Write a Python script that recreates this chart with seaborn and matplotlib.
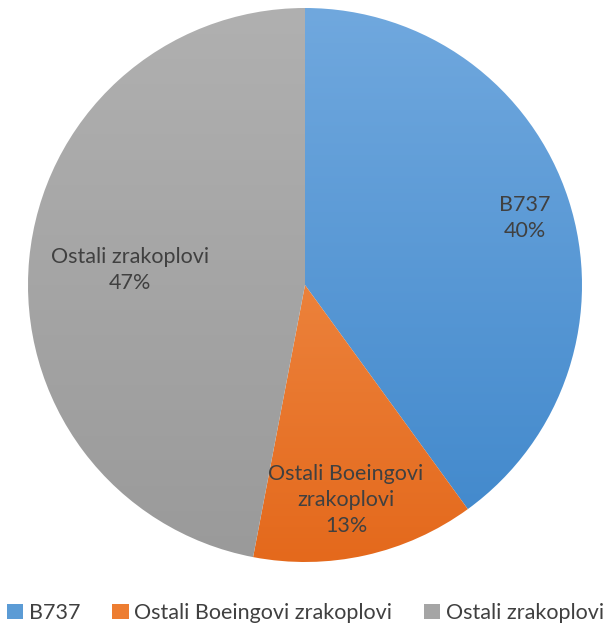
import numpy as np
import seaborn as sns
import matplotlib
matplotlib.use("Agg")
import matplotlib.pyplot as plt
from matplotlib.colors import LinearSegmentedColormap
from matplotlib.patches import Patch

# data
categories = ['B737', 'Ostali Boeingovi zrakoplovi', 'Ostali zrakoplovi']
shares = [40, 13, 47]
slice_labels = ['B737\n40%', 'Ostali Boeingovi\nzrakoplovi\n13%', 'Ostali zrakoplovi\n47%']

sns.set_theme(style="white")
plt.rcParams['font.family'] = ['Lato', 'DejaVu Sans']

# gradient colours (top, bottom) per slice
grads = [('#70a8de', '#3f87cb'), ('#f49a5a', '#e4691c'), ('#b0b0b0', '#9a9a9a')]
mid = sns.color_palette(['#5b9bd5', '#ed7d31', '#a5a5a5'])

fig = plt.figure(figsize=(6.11, 6.25), dpi=100)
ax = fig.add_axes([28 / 611, 63 / 625, 554 / 611, 554 / 625])

wedges, _ = ax.pie(shares, startangle=90, counterclock=False, radius=1,
                   wedgeprops=dict(linewidth=0))
for w, (top, bot) in zip(wedges, grads):
    w.set_facecolor('none')
    cm = LinearSegmentedColormap.from_list('g', [bot, top])
    grad = np.linspace(0, 1, 256).reshape(-1, 1)
    im = ax.imshow(grad, cmap=cm, origin='lower', extent=[-1, 1, -1, 1],
                   aspect='auto', zorder=0.5)
    im.set_clip_path(w)

ax.set_xlim(-1, 1)
ax.set_ylim(-1, 1)
ax.set_aspect('equal')
ax.axis('off')

# slice labels (axes units, radius = 1)
label_pos = [(0.794, 0.242), (0.148, -0.776), (-0.632, 0.054)]
for txt, (x, y) in zip(slice_labels, label_pos):
    ax.text(x, y, txt, ha='center', va='center', fontsize=15.5,
            color='#404040', linespacing=1.4)

handles = [Patch(facecolor=c, edgecolor='none') for c in mid]
fig.legend(handles, categories, loc='center', bbox_to_anchor=(0.5, 1 - 613 / 625),
           ncol=3, frameon=False, fontsize=15.5, handlelength=0.75, handleheight=0.75,
           handletextpad=0.25, columnspacing=1.5, labelcolor='#404040')

fig.savefig('out.png', dpi=100)
